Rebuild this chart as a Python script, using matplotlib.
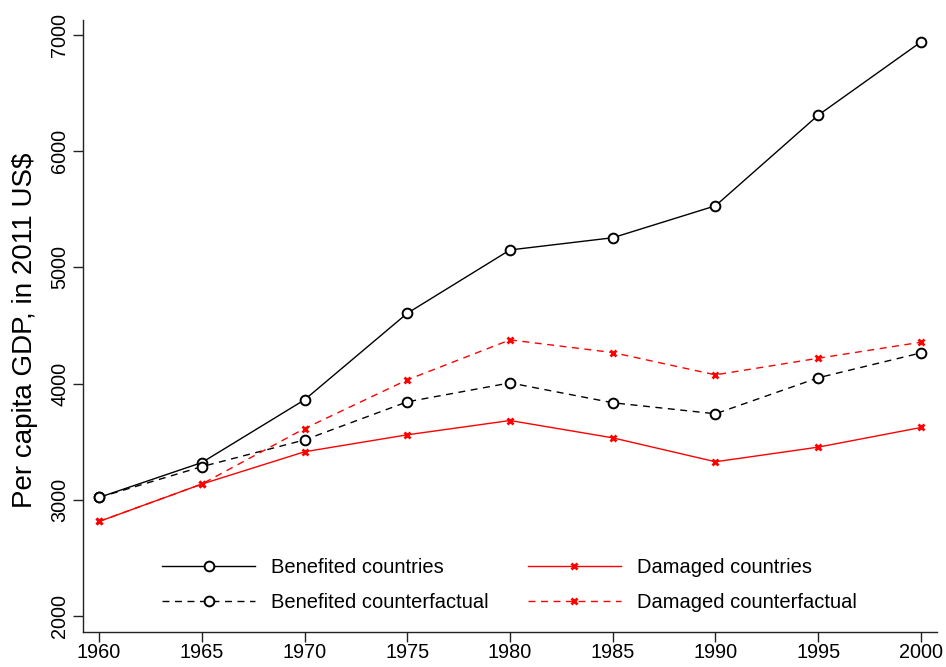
import matplotlib
matplotlib.use('Agg')
import matplotlib.pyplot as plt

plt.rcParams['font.family'] = ['Liberation Sans', 'DejaVu Sans']

# -------------------------- data --------------------------
years = [1960, 1965, 1970, 1975, 1980, 1985, 1990, 1995, 2000]
benefited = [3020, 3320, 3860, 4605, 5150, 5255, 5530, 6310, 6940]
benefited_cf = [3020, 3285, 3515, 3843, 4006, 3835, 3740, 4050, 4264]
damaged = [2813, 3135, 3413, 3559, 3682, 3533, 3327, 3453, 3622]
damaged_cf = [2813, 3135, 3613, 4032, 4376, 4267, 4075, 4218, 4356]

labels = ['Benefited countries', 'Benefited counterfactual',
          'Damaged countries', 'Damaged counterfactual']

# -------------------------- drawing --------------------------
fig = plt.figure(figsize=(9.46, 6.67), dpi=100)
ax = fig.add_axes([83 / 946, 35 / 667, 854 / 946, 612 / 667])

dash = (0, (5, 4))
ax.plot(years, benefited, color='black', lw=1.0, marker='o', ms=7, mfc='white',
        mec='black', mew=1.4, label=labels[0], zorder=3)
ax.plot(years, benefited_cf, color='black', lw=1.0, ls=dash, marker='o', ms=7, mfc='white',
        mec='black', mew=1.4, label=labels[1], zorder=3)
ax.plot(years, damaged, color='red', lw=1.0, marker='x', ms=5, mew=2.0,
        label=labels[2], zorder=3)
ax.plot(years, damaged_cf, color='red', lw=1.0, ls=dash, marker='x', ms=5, mew=2.0,
        label=labels[3], zorder=3)

ax.set_xlim(1959.22, 2000.78)
ax.set_ylim(1862, 7129)
ax.set_xticks(years)
ax.set_yticks([2000, 3000, 4000, 5000, 6000, 7000])
ax.set_yticklabels(['2000', '3000', '4000', '5000', '6000', '7000'],
                   rotation=90, va='center')

ax.tick_params(axis='both', labelsize=14.3, width=1.0, length=7, color='#222222')
# keep the year labels inside the bottom edge of the canvas
ax.tick_params(axis='x', pad=1.2)
ax.tick_params(axis='y', pad=3)

for side in ['top', 'right']:
    ax.spines[side].set_visible(False)
for side in ['left', 'bottom']:
    ax.spines[side].set_linewidth(1.0)
    ax.spines[side].set_color('#222222')

ax.set_ylabel('Per capita GDP, in 2011 US$', fontsize=20)
ax.yaxis.set_label_coords(-0.053, 0.493)

ax.legend(loc='upper left', bbox_to_anchor=(162 / 946, 1 - 558 / 667),
          bbox_transform=fig.transFigure, ncol=2, frameon=False, fontsize=14.5,
          handlelength=4.62, handletextpad=0.8, columnspacing=1.94,
          labelspacing=0.78, borderpad=0, borderaxespad=0)

fig.savefig('out.png', dpi=100)
